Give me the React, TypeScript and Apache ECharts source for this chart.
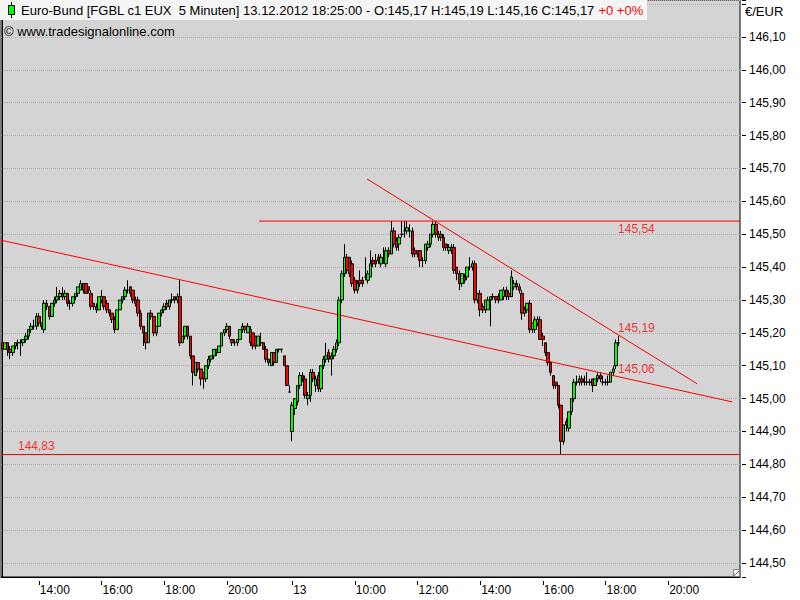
import React, { useEffect, useRef } from "react";
import * as echarts from "echarts";

// 5-minute bars, [open, close, low, high]
const day12Bars: number[][] = [
  [145.17,145.15,145.14,145.18],[145.15,145.17,145.15,145.17],[145.17,145.15,145.13,145.17],[145.15,145.14,145.12,145.16],
  [145.14,145.16,145.13,145.16],[145.16,145.17,145.15,145.17],[145.17,145.17,145.15,145.18],[145.17,145.17,145.13,145.18],
  [145.17,145.18,145.16,145.18],[145.18,145.19,145.17,145.20],[145.19,145.21,145.18,145.21],[145.21,145.22,145.20,145.23],
  [145.22,145.22,145.21,145.24],[145.22,145.25,145.21,145.26],[145.25,145.23,145.22,145.26],[145.23,145.22,145.21,145.23],
  [145.21,145.29,145.20,145.30],[145.29,145.28,145.27,145.30],[145.28,145.25,145.24,145.28],[145.25,145.29,145.25,145.29],
  [145.29,145.30,145.28,145.31],[145.30,145.31,145.29,145.34],[145.31,145.32,145.30,145.33],[145.32,145.31,145.30,145.34],
  [145.31,145.32,145.30,145.33],[145.32,145.29,145.28,145.32],[145.29,145.29,145.27,145.30],[145.29,145.31,145.28,145.31],
  [145.31,145.32,145.30,145.32],[145.32,145.34,145.31,145.34],[145.33,145.35,145.33,145.36],[145.35,145.33,145.32,145.35],
  [145.35,145.32,145.32,145.35],[145.34,145.33,145.32,145.34],[145.32,145.28,145.27,145.33],[145.29,145.28,145.27,145.29],
  [145.28,145.27,145.26,145.29],[145.27,145.31,145.27,145.31],[145.30,145.31,145.29,145.33],[145.31,145.28,145.27,145.31],
  [145.29,145.27,145.26,145.30],[145.27,145.26,145.25,145.27],[145.26,145.24,145.23,145.26],[145.24,145.21,145.20,145.25],
  [145.21,145.27,145.21,145.27],[145.27,145.30,145.27,145.30],[145.30,145.31,145.29,145.31],[145.31,145.33,145.30,145.34],
  [145.33,145.33,145.32,145.36],[145.34,145.32,145.31,145.34],[145.33,145.30,145.29,145.33],[145.30,145.29,145.28,145.31],
  [145.30,145.26,145.25,145.31],[145.26,145.22,145.21,145.27],[145.22,145.20,145.16,145.22],[145.20,145.17,145.15,145.20],
  [145.17,145.26,145.17,145.26],[145.26,145.25,145.24,145.27],[145.25,145.20,145.19,145.25],[145.20,145.22,145.19,145.22],
  [145.22,145.26,145.22,145.26],[145.26,145.27,145.25,145.27],[145.27,145.28,145.26,145.29],[145.29,145.28,145.27,145.30],
  [145.28,145.30,145.27,145.30],[145.30,145.30,145.29,145.32],[145.31,145.30,145.29,145.31],[145.30,145.31,145.29,145.32],
  [145.31,145.17,145.16,145.36],[145.17,145.19,145.17,145.19],[145.19,145.22,145.18,145.22],[145.22,145.19,145.18,145.22],
  [145.19,145.13,145.12,145.19],[145.13,145.08,145.04,145.13],[145.07,145.11,145.07,145.11],[145.11,145.09,145.08,145.11],
  [145.09,145.06,145.04,145.09],[145.08,145.06,145.03,145.08],[145.06,145.10,145.05,145.10],[145.10,145.12,145.09,145.13],
  [145.12,145.13,145.11,145.13],[145.13,145.15,145.12,145.15],[145.15,145.14,145.13,145.15],[145.14,145.16,145.14,145.16],
  [145.16,145.20,145.16,145.20],[145.20,145.21,145.19,145.21],[145.21,145.22,145.20,145.23],[145.22,145.19,145.18,145.22],
  [145.18,145.17,145.16,145.18],[145.17,145.17,145.16,145.18],[145.17,145.18,145.16,145.18],[145.18,145.21,145.18,145.21],
  [145.21,145.22,145.20,145.23],[145.22,145.21,145.20,145.22],[145.20,145.22,145.20,145.23],[145.21,145.17,145.16,145.22],
  [145.20,145.16,145.15,145.20],[145.19,145.16,145.15,145.19],[145.16,145.19,145.16,145.19],[145.17,145.17,145.16,145.20],
  [145.17,145.15,145.15,145.17],[145.15,145.12,145.11,145.16],[145.12,145.11,145.10,145.12],[145.10,145.14,145.10,145.14],
  [145.14,145.11,145.10,145.14],[145.11,145.15,145.11,145.15],[145.15,145.15,145.14,145.15],[145.15,145.15,145.14,145.15],
  [145.13,145.10,145.10,145.13],[145.10,145.04,145.04,145.10],[145.02,145.02,145.02,145.04],
];

const day13Bars: number[][] = [
  [144.90,144.98,144.87,144.99],[144.97,145.00,144.95,145.00],[144.99,145.04,144.98,145.04],[145.04,145.07,145.03,145.08],
  [145.07,145.06,145.05,145.08],[145.06,145.01,145.00,145.07],[145.00,145.01,144.98,145.02],[145.01,145.08,144.99,145.09],
  [145.08,145.06,145.05,145.09],[145.04,145.06,145.02,145.07],[145.07,145.03,145.02,145.08],[145.03,145.10,145.02,145.10],
  [145.10,145.12,145.09,145.13],[145.12,145.13,145.11,145.17],[145.14,145.12,145.11,145.15],[145.12,145.13,145.07,145.14],
  [145.13,145.15,145.12,145.16],[145.15,145.17,145.14,145.18],[145.17,145.30,145.16,145.31],[145.30,145.38,145.29,145.39],
  [145.38,145.43,145.37,145.47],[145.43,145.39,145.38,145.44],[145.43,145.38,145.37,145.43],[145.41,145.35,145.34,145.42],
  [145.36,145.33,145.32,145.37],[145.33,145.35,145.32,145.36],[145.36,145.35,145.34,145.39],[145.36,145.35,145.34,145.37],
  [145.37,145.37,145.36,145.43],[145.36,145.38,145.35,145.39],[145.37,145.41,145.37,145.45],[145.42,145.41,145.40,145.43],
  [145.42,145.41,145.40,145.44],[145.43,145.42,145.41,145.44],[145.41,145.43,145.40,145.44],[145.42,145.42,145.41,145.46],
  [145.41,145.45,145.40,145.46],[145.45,145.44,145.43,145.46],[145.44,145.51,145.44,145.54],[145.51,145.47,145.46,145.52],
  [145.48,145.46,145.45,145.49],[145.47,145.49,145.45,145.50],[145.50,145.50,145.49,145.54],[145.51,145.51,145.49,145.54],
  [145.51,145.52,145.50,145.54],[145.51,145.51,145.49,145.53],[145.51,145.44,145.43,145.52],[145.45,145.44,145.43,145.46],
  [145.45,145.44,145.43,145.45],[145.45,145.42,145.40,145.45],[145.42,145.42,145.40,145.43],[145.42,145.47,145.41,145.47],
  [145.46,145.47,145.45,145.48],[145.47,145.50,145.46,145.50],[145.50,145.53,145.49,145.54],[145.53,145.50,145.49,145.54],
  [145.49,145.50,145.48,145.51],[145.50,145.49,145.48,145.51],[145.49,145.46,145.45,145.50],[145.47,145.46,145.45,145.47],
  [145.45,145.46,145.44,145.47],[145.46,145.45,145.44,145.47],[145.46,145.39,145.38,145.47],[145.40,145.38,145.36,145.40],
  [145.38,145.35,145.33,145.39],[145.35,145.38,145.34,145.38],[145.37,145.36,145.35,145.38],[145.37,145.40,145.36,145.40],
  [145.40,145.40,145.39,145.43],[145.40,145.41,145.39,145.42],[145.41,145.30,145.29,145.42],[145.30,145.32,145.29,145.32],
  [145.32,145.27,145.25,145.33],[145.28,145.27,145.26,145.29],[145.27,145.30,145.26,145.30],[145.27,145.30,145.27,145.31],
  [145.30,145.31,145.22,145.31],[145.31,145.31,145.30,145.32],[145.31,145.30,145.29,145.31],[145.31,145.30,145.29,145.32],
  [145.30,145.33,145.30,145.33],[145.31,145.33,145.30,145.34],[145.33,145.31,145.30,145.34],[145.32,145.31,145.30,145.33],
  [145.31,145.37,145.31,145.39],[145.34,145.35,145.33,145.36],[145.35,145.34,145.33,145.36],[145.34,145.33,145.32,145.35],
  [145.32,145.26,145.24,145.33],[145.26,145.27,145.25,145.28],[145.27,145.29,145.26,145.29],[145.29,145.21,145.20,145.30],
  [145.21,145.23,145.20,145.23],[145.21,145.24,145.20,145.25],[145.23,145.24,145.22,145.25],[145.24,145.18,145.18,145.25],
  [145.19,145.18,145.16,145.20],[145.17,145.14,145.13,145.17],[145.14,145.11,145.10,145.14],[145.11,145.08,145.07,145.11],
  [145.07,145.04,145.03,145.07],[145.05,145.04,145.03,145.05],[145.04,144.98,144.97,145.04],[144.98,144.87,144.83,144.98],
  [144.87,144.92,144.86,144.92],[144.93,144.92,144.90,144.94],[144.91,144.96,144.90,144.96],[144.96,145.00,144.95,145.00],
  [145.00,145.05,144.99,145.06],[145.05,145.05,145.04,145.07],[145.05,145.06,145.04,145.07],[145.06,145.05,145.04,145.07],
  [145.05,145.05,145.04,145.07],[145.05,145.05,145.04,145.08],[145.05,145.05,145.04,145.06],[145.06,145.04,145.02,145.06],
  [145.04,145.06,145.04,145.06],[145.06,145.07,145.05,145.08],[145.07,145.06,145.05,145.08],[145.05,145.05,145.04,145.07],
  [145.05,145.05,145.04,145.06],[145.05,145.05,145.04,145.07],[145.05,145.08,145.05,145.08],[145.08,145.09,145.07,145.10],
  [145.10,145.17,145.09,145.18],[145.17,145.17,145.16,145.19],
];

// Sessions shown on the time axis (5-minute slots), right part is empty space
const sessions = [
  { day: "12", start: "12:50", end: "22:00" },
  { day: "13", start: "08:00", end: "22:15" },
];

// Time-axis labels
const timeLabels: Record<string, string> = {
  "12 14:00": "14:00", "12 16:00": "16:00", "12 18:00": "18:00", "12 20:00": "20:00",
  "13 08:00": "13", "13 10:00": "10:00", "13 12:00": "12:00", "13 14:00": "14:00",
  "13 16:00": "16:00", "13 18:00": "18:00", "13 20:00": "20:00",
};

// Drawn lines in [slot, price]
const resistanceLine = [[98.3, 145.54], [282.5, 145.54]];
const supportLine = [[-0.5, 144.83], [282.5, 144.83]];
const longTrendLine = [[-0.5, 145.482], [279.5, 144.99]];
const shortTrendLine = [[139.7, 145.668], [266.1, 145.045]];

// Line value labels: [slot, price, text]
const lineLabels: [number, number, string][] = [
  [235.8, 145.516, "145,54"],
  [235.8, 145.216, "145,19"],
  [235.8, 145.09, "145,06"],
  [6.0, 144.856, "144,83"],
];

const Y_MIN = 144.4574;
const Y_MAX = 146.2125;
const FONT = "Liberation Sans, Arial, sans-serif";

function buildCategories(): string[] {
  const out: string[] = [];
  for (const s of sessions) {
    const [sh, sm] = s.start.split(":").map(Number);
    const [eh, em] = s.end.split(":").map(Number);
    for (let t = sh * 60 + sm; t <= eh * 60 + em; t += 5) {
      const h = String(Math.floor(t / 60)).padStart(2, "0");
      const m = String(t % 60).padStart(2, "0");
      out.push(`${s.day} ${h}:${m}`);
    }
  }
  return out;
}

export default function App() {
  const ref = useRef<HTMLDivElement>(null);
  useEffect(() => {
    if (!ref.current) return;
    const chart = echarts.init(ref.current, undefined, { renderer: "svg" });
    const categories = buildCategories();
    const bars = [...day12Bars, ...day13Bars];
    const showIdx = (_i: number, v: string) => timeLabels[v] !== undefined;
    const fmtY = (v: number) => {
      const r = Math.round(v * 10);
      if (Math.abs(v * 10 - r) > 1e-6 || v > 146.15 || v < 144.45) return "";
      return v.toFixed(2).replace(".", ",");
    };
    const redLine = (data: number[][]) => ({
      type: "line",
      xAxisIndex: 2,
      yAxisIndex: 0,
      data,
      showSymbol: false,
      silent: true,
      lineStyle: { color: "#ff0000", width: 1 },
      z: 5,
    });
    chart.setOption({
      animation: false,
      backgroundColor: "#ffffff",
      grid: {
        left: 1, right: 60, top: 0, bottom: 23,
        show: true, backgroundColor: "#d4d4d4", borderColor: "#000", borderWidth: 1,
      },
      xAxis: [
        {
          type: "category", data: categories, boundaryGap: true, position: "bottom",
          axisLine: { show: true, lineStyle: { color: "#000", width: 1 } },
          axisTick: { show: false }, axisLabel: { show: false }, splitLine: { show: false },
        },
        {
          type: "category", data: categories, boundaryGap: true, position: "bottom", offset: 4,
          axisLine: { show: false },
          axisTick: { show: true, interval: showIdx, alignWithLabel: true, length: 4, lineStyle: { color: "#000" } },
          axisLabel: {
            show: true, interval: showIdx, formatter: (v: string) => timeLabels[v] ?? "",
            align: "left", padding: [0, 0, 0, 1], margin: 3, color: "#000", fontSize: 12, fontFamily: FONT,
          },
          splitLine: { show: false },
        },
        { type: "value", min: -0.5, max: categories.length - 0.5, show: false },
      ],
      yAxis: [
        {
          type: "value", position: "right", min: Y_MIN, max: Y_MAX, splitNumber: 17, scale: true,
          axisLine: { show: true, lineStyle: { color: "#000" } },
          axisTick: { show: false }, axisLabel: { show: false },
          splitLine: { show: true, lineStyle: { color: "#aaaaaa", type: "dotted", width: 1, dashOffset: 0 } },
        },
        {
          type: "value", position: "right", offset: 2, min: Y_MIN, max: Y_MAX, splitNumber: 17, scale: true,
          axisLine: { show: false },
          axisTick: { show: true, length: 4, lineStyle: { color: "#000" } },
          axisLabel: { show: true, formatter: fmtY, margin: 7, color: "#000", fontSize: 12, fontFamily: FONT },
          splitLine: { show: false },
        },
      ],
      series: [
        {
          type: "candlestick",
          xAxisIndex: 0, yAxisIndex: 0,
          data: bars,
          barWidth: 3,
          itemStyle: {
            color: "#00ff00", color0: "#ff0000",
            borderColor: "#000000", borderColor0: "#000000", borderWidth: 1,
          },
          z: 3,
        },
        redLine(resistanceLine),
        redLine(supportLine),
        redLine(longTrendLine),
        redLine(shortTrendLine),
        {
          type: "scatter", xAxisIndex: 2, yAxisIndex: 0, symbolSize: 0, silent: true,
          data: lineLabels,
          label: {
            show: true, position: [0, 0], align: "left", verticalAlign: "middle",
            formatter: (p: any) => p.data[2], color: "#ff0000", fontSize: 12, fontFamily: FONT,
          },
          z: 6,
        },
      ],
      graphic: [
        { type: "rect", shape: { x: 0, y: 0, width: 647, height: 20 }, style: { fill: "#f5f5f5" }, z: 10 },
        { type: "line", shape: { x1: 11.5, y1: 2, x2: 11.5, y2: 18 }, style: { stroke: "#000", lineWidth: 1 }, z: 11 },
        { type: "rect", shape: { x: 8.5, y: 5.5, width: 6, height: 9 }, style: { fill: "#00ff00", stroke: "#000", lineWidth: 1 }, z: 12 },
        {
          type: "text", x: 21, y: 10, z: 12,
          style: {
            text: "{a|Euro-Bund [FGBL c1 EUX  5 Minuten] 13.12.2012 18:25:00 - O:145,17 H:145,19 L:145,16 C:145,17 }{b|+0 +0%}",
            verticalAlign: "middle", font: `13px ${FONT}`,
            rich: {
              a: { fill: "#000", fontSize: 13, fontFamily: FONT },
              b: { fill: "#ff0000", fontSize: 13, fontFamily: FONT },
            },
          },
        },
        {
          type: "text", x: 4, y: 31, z: 12,
          style: { text: "© www.tradesignalonline.com", fill: "#000", font: `13px ${FONT}`, verticalAlign: "middle" },
        },
        {
          type: "text", x: 745, y: 11, z: 12,
          style: { text: "€/EUR", fill: "#000", font: `13px ${FONT}`, verticalAlign: "middle" },
        },
        { type: "rect", shape: { x: 733.5, y: 569.5, width: 6, height: 7 }, style: { fill: "#ffffff", stroke: "#808080", lineWidth: 1 }, z: 12 },
        { type: "line", shape: { x1: 734, y1: 576, x2: 739, y2: 571 }, style: { stroke: "#606060", lineWidth: 1 }, z: 13 },
      ],
    });
    return () => chart.dispose();
  }, []);
  return <div ref={ref} style={{ position: "absolute", left: 0, top: 0, width: 800, height: 600 }} />;
}
